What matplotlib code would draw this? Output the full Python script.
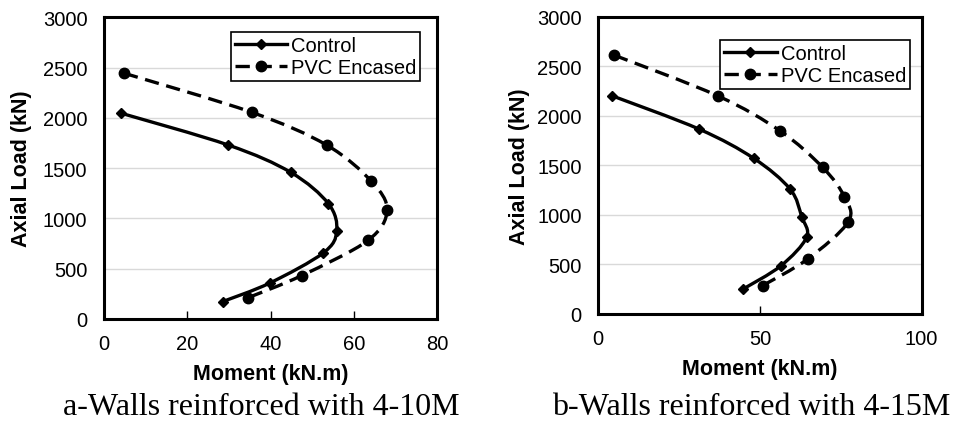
import matplotlib
matplotlib.use('Agg')
import matplotlib.pyplot as plt
from matplotlib.path import Path
from matplotlib.patches import PathPatch
from matplotlib.lines import Line2D

# a - walls with 4-10M
a_ctrl_m = [4.2, 29.9, 44.9, 53.9, 55.9, 52.7, 39.9, 28.5]
a_ctrl_p = [2045, 1729, 1457, 1147, 875, 658, 359, 173]
a_pvc_m = [4.8, 35.5, 53.5, 64.2, 68.0, 63.4, 47.5, 34.5]
a_pvc_p = [2444, 2055, 1729, 1370, 1081, 781, 432, 210]

# b - walls with 4-15M
b_ctrl_m = [4.3, 31.2, 48.1, 59.3, 62.9, 64.4, 56.5, 44.8]
b_ctrl_p = [2200, 1864, 1569, 1260, 981, 773, 487, 252]
b_pvc_m = [4.9, 36.9, 56.2, 69.4, 76.1, 77.3, 64.7, 50.8]
b_pvc_p = [2610, 2200, 1847, 1478, 1182, 930, 554, 286]

captions = ['a-Walls reinforced with 4-10M', 'b-Walls reinforced with 4-15M']
xlims = [80, 100]
xticks = [[0, 20, 40, 60, 80], [0, 50, 100]]
yticks = [0, 500, 1000, 1500, 2000, 2500, 3000]

plt.rcParams['font.family'] = ['Liberation Sans', 'DejaVu Sans']


def smooth_path(xs, ys):
    # excel-like smoothed line: bezier segments through the points
    pts = list(zip(xs, ys))
    n = len(pts)
    verts = [pts[0]]
    codes = [Path.MOVETO]
    for i in range(n - 1):
        p0 = pts[i - 1] if i > 0 else pts[i]
        p1 = pts[i]
        p2 = pts[i + 1]
        p3 = pts[i + 2] if i + 2 < n else pts[i + 1]
        c1 = (p1[0] + (p2[0] - p0[0]) / 6, p1[1] + (p2[1] - p0[1]) / 6)
        c2 = (p2[0] - (p3[0] - p1[0]) / 6, p2[1] - (p3[1] - p1[1]) / 6)
        verts += [c1, c2, p2]
        codes += [Path.CURVE4] * 3
    return Path(verts, codes)


fig = plt.figure(figsize=(9.55, 4.27), dpi=100)
ax1 = fig.add_axes([0.1089, 0.2506, 0.3487, 0.7066])
ax2 = fig.add_axes([0.6265, 0.2623, 0.3386, 0.6967])

dash = (0, (4.3, 2.3))
data = [(ax1, a_ctrl_m, a_ctrl_p, a_pvc_m, a_pvc_p),
        (ax2, b_ctrl_m, b_ctrl_p, b_pvc_m, b_pvc_p)]

for k, (ax, cm, cp, pm, pp) in enumerate(data):
    ax.add_patch(PathPatch(smooth_path(cm, cp), fill=False, ec='black', lw=2.4, zorder=3))
    ax.add_patch(PathPatch(smooth_path(pm, pp), fill=False, ec='black', lw=2.4,
                           ls=dash, zorder=3))
    ax.plot(cm, cp, ls='none', marker='D', ms=5.5, color='black', zorder=4)
    ax.plot(pm, pp, ls='none', marker='o', ms=7.5, color='black', zorder=4)

    ax.set_xlim(0, xlims[k])
    ax.set_ylim(0, 3000)
    ax.set_xticks(xticks[k])
    ax.set_yticks(yticks)
    ax.grid(axis='y', color='#d9d9d9', lw=1)
    ax.set_axisbelow(True)
    for s in ax.spines.values():
        s.set_linewidth(2.2)
    ax.tick_params(axis='x', direction='in', length=6, width=1, pad=11, labelsize=14.5)
    ax.tick_params(axis='y', length=0, pad=12, labelsize=14.5)
    ax.set_xlabel('Moment (kN.m)', fontsize=15.5, fontweight='bold', labelpad=7)
    ax.set_ylabel('Axial Load (kN)', fontsize=15.5, fontweight='bold')

    handles = [Line2D([], [], color='black', lw=2.4, marker='D', ms=5.5),
               Line2D([], [], color='black', lw=2.4, ls=dash, marker='o', ms=7.5)]
    anchor = (0.95, 0.95) if k == 0 else (0.964, 0.922)
    leg = ax.legend(handles, ['Control', 'PVC Encased'], loc='upper right',
                    bbox_to_anchor=anchor, fontsize=14.5, frameon=True,
                    fancybox=False, edgecolor='black', framealpha=1,
                    handlelength=2.6, handletextpad=0.2, labelspacing=0.15,
                    borderpad=0.2, borderaxespad=0)
    leg.get_frame().set_linewidth(1.2)

ax1.yaxis.set_label_coords(-0.216, 0.5)
ax2.yaxis.set_label_coords(-0.211, 0.5)

fig.text(261 / 955, 1 - 408 / 427, captions[0], ha='center', va='center',
         fontsize=23, family='Liberation Serif')
fig.text(751 / 955, 1 - 408 / 427, captions[1], ha='center', va='center',
         fontsize=23, family='Liberation Serif')

fig.savefig('out.png', dpi=100)
